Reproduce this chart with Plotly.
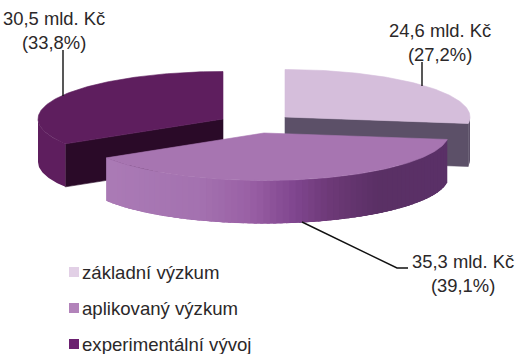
import numpy as np
import plotly.graph_objects as go

categories = ["základní výzkum", "aplikovaný výzkum", "experimentální vývoj"]
values_mld = [24.6, 35.3, 30.5]
shares = [27.2, 39.1, 33.8]
labels = ["24,6 mld. Kč<br>(27,2%)", "35,3 mld. Kč<br>(39,1%)", "30,5 mld. Kč<br>(33,8%)"]

top_colors = ["#d5bedb", "#a775b1", "#5e1e5e"]
wall_colors = ["#5c5068", None, "#2a0a28"]
swatch_colors = ["#e2d0e6", "#b283ba", "#6b2070"]
centers = [(285, 117), (264, 133), (223, 119)]
RX, RY, DEPTH = 185, 47.5, 43
TXT = "#2b2829"

side_stops = [(106, "#ab7bb6"), (200, "#a472b0"), (250, "#9a60a5"), (295, "#80468f"),
              (329, "#6e3a78"), (378, "#5a3065"), (447, "#5a3068")]


def hex2rgb(h):
    return np.array([int(h[i:i + 2], 16) for i in (1, 3, 5)], float)


def side_color(x):
    xs = [s[0] for s in side_stops]
    cs = np.array([hex2rgb(s[1]) for s in side_stops])
    r = [np.interp(x, xs, cs[:, i]) for i in range(3)]
    return "rgb(%d,%d,%d)" % tuple(r)


total = sum(shares)
angles = np.concatenate([[0], np.cumsum(shares) / total * 2 * np.pi])


def pt(c, a, d=0):
    return c[0] + RX * np.sin(a), c[1] - RY * np.cos(a) + d


def poly(fig, xs, ys, color, lw=0.6):
    fig.add_trace(go.Scatter(x=list(xs), y=list(ys), mode="lines", fill="toself",
                             fillcolor=color, line=dict(color=color, width=lw),
                             hoverinfo="skip", showlegend=False))


def top_face(fig, i):
    c = centers[i]
    t = np.linspace(angles[i], angles[i + 1], 120)
    x, y = pt(c, t)
    poly(fig, [c[0], *x, c[0]], [c[1], *y, c[1]], top_colors[i])


def wall(fig, i, a):
    c = centers[i]
    x, y = pt(c, a)
    poly(fig, [c[0], x, x, c[0], c[0]],
         [c[1], y, y + DEPTH, c[1] + DEPTH, c[1]], wall_colors[i])


def side(fig, i, a0, a1, color=None, strips=1):
    c = centers[i]
    edges = np.linspace(a0, a1, strips + 1)
    overlap = 0 if strips == 1 else (a1 - a0) / strips * 1.5
    for e0, e1 in zip(edges[:-1], edges[1:]):
        # painted from a0 towards a1; each strip runs on under the next one so no seam shows
        t = np.linspace(e0, min(e1 + overlap, a1), 30 if strips == 1 else 6)
        x, y = pt(c, t)
        col = color or side_color(RX * np.sin((e0 + e1) / 2) + c[0])
        poly(fig, [*x, *x[::-1], x[0]], [*y, *(y[::-1] + DEPTH), y[0]], col, lw=0)


fig = go.Figure()
# back-left slice
wall(fig, 2, angles[2])
side(fig, 2, angles[2], 1.5 * np.pi, top_colors[2])
top_face(fig, 2)
# back-right slice
wall(fig, 0, angles[1])
side(fig, 0, 0.5 * np.pi, angles[1], wall_colors[0])
top_face(fig, 0)
# front slice
side(fig, 1, angles[1], angles[2], strips=70)
top_face(fig, 1)

# leader lines
LEADERS = [((422, 62), (422, 86)), ((302, 222), (397, 268), (408, 268)), ((63, 50), (63, 96))]
for pts in LEADERS:
    fig.add_trace(go.Scatter(x=[p[0] for p in pts], y=[p[1] for p in pts], mode="lines",
                             line=dict(color="#111111", width=1.4), hoverinfo="skip", showlegend=False))

# legend
LEG_X, LEG_Y = 74, [272, 308, 344]
for name, col, y in zip(categories, swatch_colors, LEG_Y):
    fig.add_trace(go.Scatter(x=[LEG_X], y=[y], mode="markers",
                             marker=dict(symbol="square", size=10, color=col),
                             name=name, hoverinfo="name", showlegend=False))
    fig.add_annotation(x=LEG_X + 8, y=y, text=name, showarrow=False, xanchor="left",
                       yanchor="middle", font=dict(size=18.6, color=TXT), borderpad=0, xshift=-1)

LABEL_POS = [(440, 42), (463, 273), (54, 30)]
for txt, (x, y) in zip(labels, LABEL_POS):
    fig.add_annotation(x=x, y=y, text=txt, showarrow=False, align="center",
                       xanchor="center", yanchor="middle", font=dict(size=18.4, color=TXT))

fig.update_layout(
    width=523, height=354, margin=dict(l=0, r=0, t=0, b=0),
    paper_bgcolor="white", plot_bgcolor="white",
    font=dict(family="Liberation Sans, Arial, sans-serif"),
    xaxis=dict(range=[0, 523], visible=False, fixedrange=True),
    yaxis=dict(range=[354, 0], visible=False, fixedrange=True),
)
fig.write_html("out.html", config={"displayModeBar": False},
               post_script="document.body.style.margin='0';document.documentElement.style.overflow='hidden';")
